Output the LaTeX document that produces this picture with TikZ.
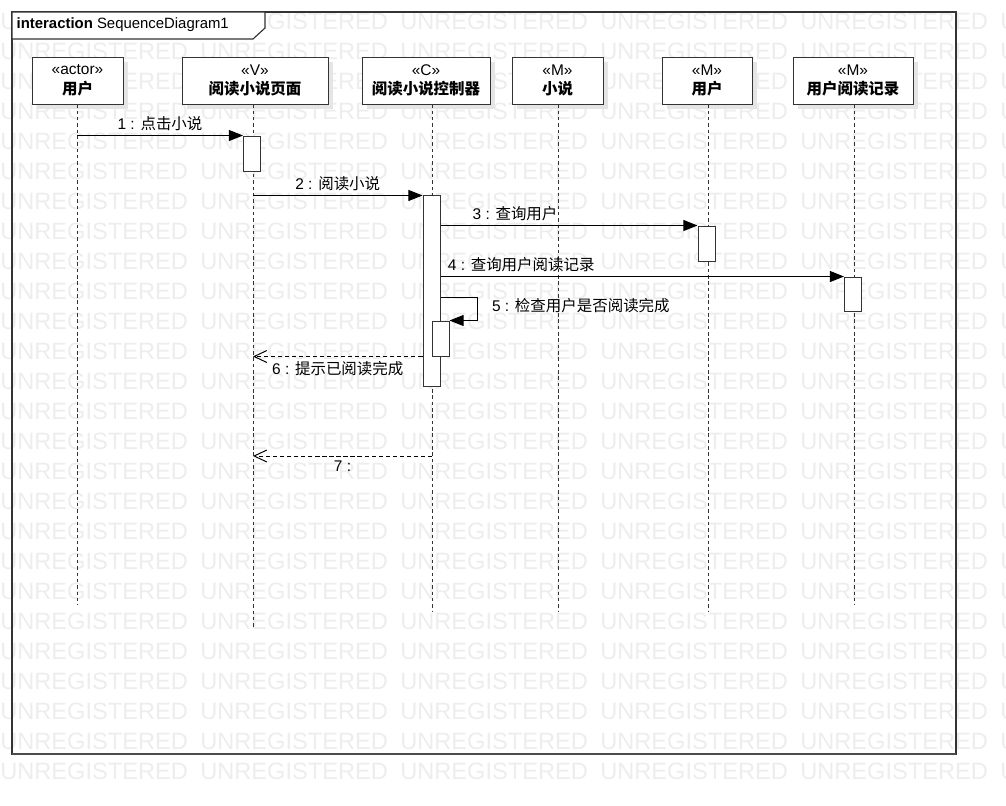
\documentclass[tikz,border=0pt]{standalone}
\usepackage{fontspec}
\setmainfont{Liberation Sans}
\newfontfamily\cjk{Noto Sans CJK SC}
\usetikzlibrary{arrows.meta, positioning, shadows}

\tikzset{
  head/.style={draw=black!80, fill=white, minimum height=1.175cm, inner sep=0pt, align=center,
    font=\fontsize{11}{14}\selectfont,
    general shadow={fill=black!10, shadow xshift=3.5pt, shadow yshift=-3.5pt}},
  act/.style={draw=black!80, fill=white, minimum width=0.425cm, inner sep=0pt, line width=0.7pt},
  life/.style={black!80, dash pattern=on 2.5pt off 2pt, line width=0.6pt},
  msg/.style={-{Triangle[length=10pt, width=7.8pt]}, line width=0.7pt},
  reply/.style={-{Straight Barb[length=9pt, width=8.5pt]}, dash pattern=on 3pt off 2pt, line width=0.7pt},
  lbl/.style={font=\fontsize{11}{13}\selectfont, inner sep=3pt},
  wm/.style={anchor=west, inner sep=0pt, text=black!7, font=\fontsize{16.8}{18}\selectfont}
}

\begin{document}
\begin{tikzpicture}[x=0.025cm, y=-0.025cm]
  \useasboundingbox (0,0) rectangle (1006,805);
  \clip (0,0) rectangle (1006,805);

  % watermark
  \foreach \row in {0,...,25}
    \foreach \col in {0,...,5}
      \node[wm] at (\col*200, 21+\row*30) {UNREGISTERED};

  % frame
  \draw[black!80, line width=0.8pt] (12,12) rectangle (956,754);
  \draw[black!70, line width=1.6pt] (12,754) -- (956,754);
  \filldraw[fill=white, draw=black!80, line width=0.8pt] (12,12) -- (265,12) -- (265,28) -- (253,39) -- (12,39) -- cycle;
  \node[lbl, anchor=west, inner sep=1pt, font=\fontsize{10.6}{13}\selectfont] (title) at (15,25) {\textbf{interaction} SequenceDiagram1};

  % lifeline heads
  \node[head, minimum width=2.275cm] (actor) at (77.5,80.5) {«actor»\\\textbf{\cjk 用户}};
  \node[head, minimum width=3.65cm] (view) at (255,80.5) {«V»\\\textbf{\cjk 阅读小说页面}};
  \node[head, minimum width=3.2cm] (ctrl) at (426,80.5) {«C»\\\textbf{\cjk 阅读小说控制器}};
  \node[head, minimum width=2.275cm] (novel) at (557.5,80.5) {«M»\\\textbf{\cjk 小说}};
  \node[head, minimum width=2.25cm] (user) at (707,80.5) {«M»\\\textbf{\cjk 用户}};
  \node[head, minimum width=3cm] (record) at (853,80.5) {«M»\\\textbf{\cjk 用户阅读记录}};

  \coordinate (actorE) at (77,605);
  \coordinate (viewE) at (253,627);
  \coordinate (ctrlE) at (432,612);
  \coordinate (novelE) at (558,612);
  \coordinate (userE) at (708,612);
  \coordinate (recordE) at (854,605);

  \draw[life] (actor.south -| actorE) -- (actorE);
  \draw[life] (view.south -| viewE) -- (viewE);
  \draw[life] (ctrl.south -| ctrlE) -- (ctrlE);
  \draw[life] (novel.south -| novelE) -- (novelE);
  \draw[life] (user.south -| userE) -- (userE);
  \draw[life] (record.south -| recordE) -- (recordE);

  % activations
  \node[act, minimum height=0.875cm] (a1) at (252,153.5) {};
  \node[act, minimum height=4.75cm] (a2) at (431.5,291) {};
  \node[act, minimum height=0.875cm] (a3) at (706.5,243.5) {};
  \node[act, minimum height=0.85cm] (a4) at (853,294) {};
  \node[act, minimum height=0.875cm] (a5) at (440.5,338.5) {};

  % messages
  \draw[msg] (actorE |- a1.north) -- (a1.north west)
    node[lbl, midway, above] {1 : {\cjk 点击小说}};
  \draw[msg] (viewE |- a2.north) -- (a2.north west)
    node[lbl, midway, above] {2 : {\cjk 阅读小说}};
  \draw[msg] (a2.east |- a3.north) -- (a3.north west)
    node[lbl, pos=0.29, above] {3 : {\cjk 查询用户}};
  \draw[msg] (a2.east |- a4.north) -- (a4.north west)
    node[lbl, pos=0.2, above] {4 : {\cjk 查询用户阅读记录}};
  \draw[msg] (a2.east |- 0,297) -- ++(37,0) |- (a5.north east)
    node[lbl, pos=0.25, right, xshift=7pt, yshift=2pt] {5 : {\cjk 检查用户是否阅读完成}};
  \draw[reply] (a2.west |- a5.south) -- (viewE |- a5.south)
    node[lbl, midway, below] {6 : {\cjk 提示已阅读完成}};
  \draw[reply] (ctrlE |- 0,456) -- (viewE |- 0,456)
    node[lbl, midway, below] {7 :};
\end{tikzpicture}
\end{document}
